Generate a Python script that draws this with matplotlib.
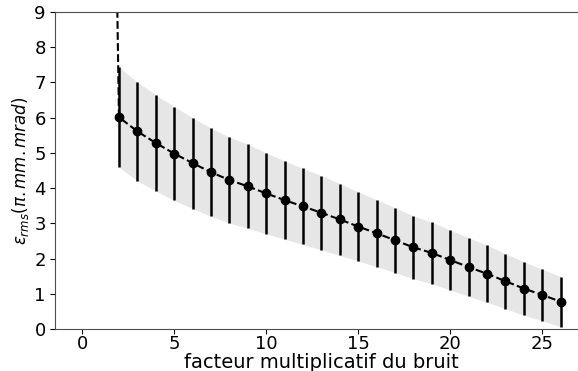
import matplotlib
matplotlib.use("Agg")
import matplotlib.pyplot as plt
import numpy as np

plt.rcParams.update({"font.size": 12})

# facteur multiplicatif du bruit
x = [2, 3, 4, 5, 6, 7, 8, 9, 10, 11, 12, 13, 14, 15, 16, 17, 18, 19, 20, 21, 22, 23, 24, 25, 26]
# emittance rms moyenne
eps = [6.01, 5.61, 5.28, 4.98, 4.71, 4.45, 4.23, 4.05, 3.85, 3.66, 3.48, 3.30, 3.11,
       2.91, 2.72, 2.52, 2.32, 2.16, 1.96, 1.76, 1.57, 1.36, 1.15, 0.97, 0.78]
# ecart type
err = [1.42, 1.40, 1.36, 1.33, 1.29, 1.25, 1.22, 1.19, 1.15, 1.11, 1.08, 1.05, 1.02,
       0.98, 0.95, 0.92, 0.89, 0.87, 0.85, 0.83, 0.81, 0.78, 0.76, 0.73, 0.71]
# point de depart de la courbe (hors cadre)
x0, eps0 = 1, 40.0

x = np.array(x)
eps = np.array(eps)
err = np.array(err)

fig = plt.figure(figsize=(5.78, 3.71), dpi=100)
ax = fig.add_axes([0.096, 0.113, 0.92, 0.855])

ax.fill_between(x, eps - err, eps + err, color="0.9", lw=0)
ax.plot(np.r_[x0, x], np.r_[eps0, eps], "k--", lw=1.5)
ax.errorbar(x, eps, yerr=err, fmt="o", color="k", ms=6, elinewidth=1.8, capsize=0)

ax.set_xlim(-1.45, 27.45)
ax.set_ylim(0, 9)
ax.set_xticks([0, 5, 10, 15, 20, 25])
ax.set_yticks(range(10))
ax.tick_params(labelsize=13)
ax.tick_params(axis="x", pad=1)
ax.set_xlabel("facteur multiplicatif du bruit", fontsize=14, labelpad=0)
ax.set_ylabel(r"$\varepsilon_{rms}(\pi.mm.mrad)$", fontsize=12, labelpad=2)
for s in ax.spines.values():
    s.set_color("0.3")

fig.savefig("out.png", dpi=100)
